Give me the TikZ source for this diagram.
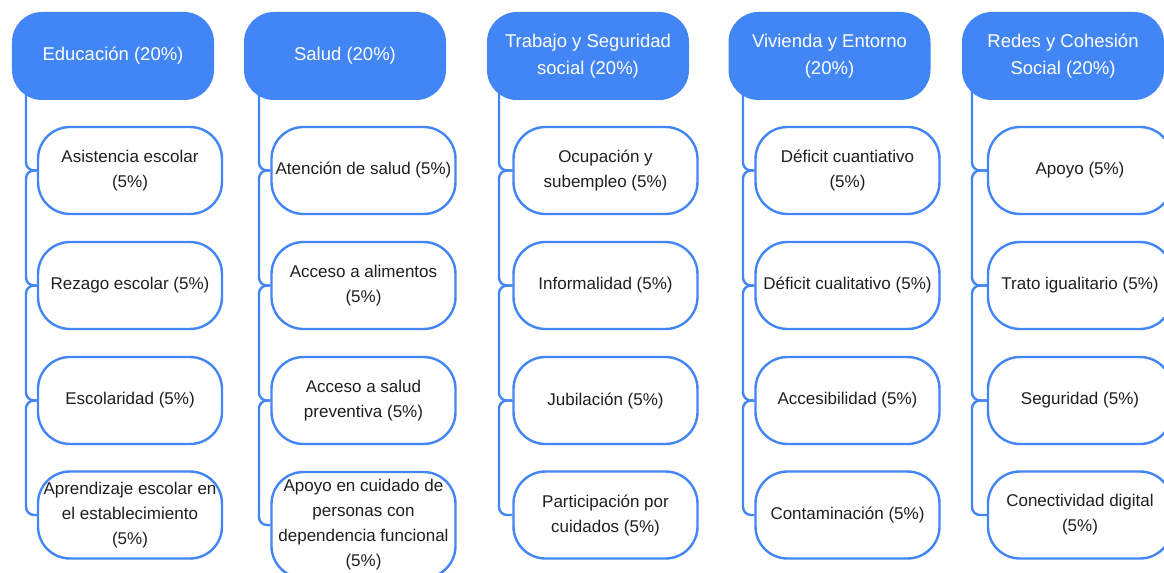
\documentclass[tikz,border=0pt]{standalone}
\usepackage{fontspec}
\setmainfont{Liberation Sans}
\definecolor{gblue}{HTML}{4285F4}
\definecolor{txt}{HTML}{1F1F1F}
\tikzset{
  hdr/.style={rectangle, rounded corners=30bp, fill=gblue, text=white,
    minimum width=202bp, minimum height=88bp, align=center, inner sep=0pt,
    font=\fontsize{18.5bp}{27bp}\selectfont},
  sub/.style={rectangle, rounded corners=32bp, draw=gblue, line width=2.4bp,
    fill=white, text=txt, minimum width=184bp, minimum height=87bp,
    align=center, inner sep=0pt, font=\fontsize{17bp}{25bp}\selectfont},
  conn/.style={draw=gblue, line width=2.4bp, rounded corners=8bp},
}
\begin{document}
\begin{tikzpicture}[x=1bp,y=-1bp]
\useasboundingbox (0,0) rectangle (1164,573);
\clip (0,0) rectangle (1164,573);
% headers
\node[hdr] (h1) at (113,56) {Educación (20\%)};
\node[hdr] (h2) at (345,56) {Salud (20\%)};
\node[hdr] (h3) at (588,56) {Trabajo y Seguridad\\social (20\%)};
\node[hdr] (h4) at (829.5,56) {Vivienda y Entorno\\(20\%)};
\node[hdr] (h5) at (1063,56) {Redes y Cohesión\\Social (20\%)};
% trunk coordinates
\coordinate (t1) at (26,90);
\coordinate (t2) at (259,90);
\coordinate (t3) at (499,90);
\coordinate (t4) at (743,90);
\coordinate (t5) at (972,90);
% column 1
\node[sub] (a1) at (130,170.5) {Asistencia escolar\\(5\%)};
\node[sub] (a2) at (130,285.5) {Rezago escolar (5\%)};
\node[sub] (a3) at (130,400.5) {Escolaridad (5\%)};
\node[sub] (a4) at (130,515) {Aprendizaje escolar en\\el establecimiento\\(5\%)};
% column 2
\node[sub] (b1) at (363.5,170.5) {Atención de salud (5\%)};
\node[sub] (b2) at (363.5,285.5) {Acceso a alimentos\\(5\%)};
\node[sub] (b3) at (363.5,400.5) {Acceso a salud\\preventiva (5\%)};
\node[sub, minimum height=106bp] (b4) at (363.5,525) {Apoyo en cuidado de\\personas con\\dependencia funcional\\(5\%)};
% column 3
\node[sub] (c1) at (605.5,170.5) {Ocupación y\\subempleo (5\%)};
\node[sub] (c2) at (605.5,285.5) {Informalidad (5\%)};
\node[sub] (c3) at (605.5,400.5) {Jubilación (5\%)};
\node[sub] (c4) at (605.5,515) {Participación por\\cuidados (5\%)};
% column 4
\node[sub] (d1) at (847.5,170.5) {Déficit cuantiativo\\(5\%)};
\node[sub] (d2) at (847.5,285.5) {Déficit cualitativo (5\%)};
\node[sub] (d3) at (847.5,400.5) {Accesibilidad (5\%)};
\node[sub] (d4) at (847.5,515) {Contaminación (5\%)};
% column 5
\node[sub] (e1) at (1080,170.5) {Apoyo (5\%)};
\node[sub] (e2) at (1080,285.5) {Trato igualitario (5\%)};
\node[sub] (e3) at (1080,400.5) {Seguridad (5\%)};
\node[sub] (e4) at (1080,515) {Conectividad digital\\(5\%)};
% connectors
\foreach \c/\t in {a/t1,b/t2,c/t3,d/t4,e/t5}{
  \draw[conn] (\t) |- (\c1.west);
  \draw[conn] (\c1.west) -| (\t |- \c2.west) -- (\c2.west);
  \draw[conn] (\c2.west) -| (\t |- \c3.west) -- (\c3.west);
  \draw[conn] (\c3.west) -| (\t |- \c4.west) -- (\c4.west);
}
\end{tikzpicture}
\end{document}
